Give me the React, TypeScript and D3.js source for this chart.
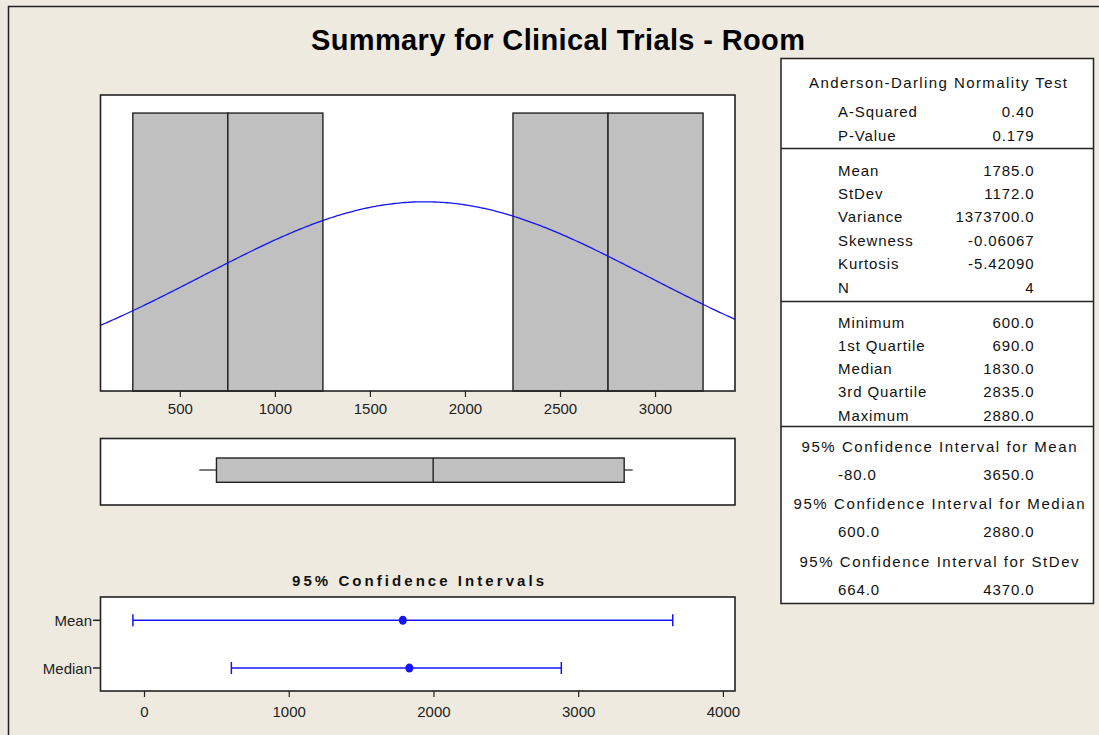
import React from "react";
import * as d3 from "d3";

// ---------- data ----------
const binEdges = [250, 750, 1250, 1750, 2250, 2750, 3250];
const binCounts = [1, 1, 0, 0, 1, 1];
const fitMean = 1785;
const fitStDev = 1172;
const fitN = 4;
const histTicks = [500, 1000, 1500, 2000, 2500, 3000];

const boxMin = 600;
const boxQ1 = 690;
const boxMedian = 1830;
const boxQ3 = 2835;
const boxMax = 2880;

const ciLabels = ["Mean", "Median"];
const ciCenters = [1785, 1830];
const ciLows = [-80, 600];
const ciHighs = [3650, 2880];
const ciTicks = [0, 1000, 2000, 3000, 4000];

const adLabels = ["A-Squared", "P-Value"];
const adValues = ["0.40", "0.179"];
const momentLabels = ["Mean", "StDev", "Variance", "Skewness", "Kurtosis", "N"];
const momentValues = ["1785.0", "1172.0", "1373700.0", "-0.06067", "-5.42090", "4"];
const quantLabels = ["Minimum", "1st Quartile", "Median", "3rd Quartile", "Maximum"];
const quantValues = ["600.0", "690.0", "1830.0", "2835.0", "2880.0"];
const ciTableHeaders = [
  "95% Confidence Interval for Mean",
  "95% Confidence Interval for Median",
  "95% Confidence Interval for StDev",
];
const ciTableLows = ["-80.0", "600.0", "664.0"];
const ciTableHighs = ["3650.0", "2880.0", "4370.0"];

const titleText = "Summary for Clinical Trials - Room";
const ciTitle = "95% Confidence Intervals";

// ---------- style ----------
const BG = "#EEEAE0";
const EDGE = "#222";
const BAR = "#C0C0C0";
const BLUE = "#1414F5";
const SANS = "'Liberation Sans', Arial, sans-serif";
const NARROW = "'Liberation Sans Narrow', 'Liberation Sans', Arial, sans-serif";

export default function App() {
  const W = 1099;
  const H = 735;

  // histogram
  const xH = d3.scaleLinear().domain([80, 3418]).range([100.5, 735]);
  const yH = d3.scaleLinear().domain([0, 1.065]).range([391, 95]);
  const bw = binEdges[1] - binEdges[0];
  const pdf = (v: number) =>
    (fitN * bw) / (fitStDev * Math.sqrt(2 * Math.PI)) *
    Math.exp(-0.5 * ((v - fitMean) / fitStDev) ** 2);
  const [d0, d1] = xH.domain();
  const curvePts: [number, number][] = d3
    .range(d0, d1 + 0.001, (d1 - d0) / 300)
    .map((v) => [v, pdf(v)]);
  const curve = d3
    .line<[number, number]>()
    .x((p) => xH(p[0]))
    .y((p) => yH(p[1]))(curvePts);

  // boxplot
  const boxTop = 438.5, boxBot = 505;
  const bxTop = 458, bxBot = 482.3, bxMid = 470;

  // CI plot
  const xC = d3.scaleLinear().domain([-304, 4080]).range([100.5, 735]);
  const ciTop = 597, ciBot = 691;
  const yC = d3.scalePoint<string>().domain(ciLabels).range([620.3, 668]);

  // table layout
  const tL = 781, tR = 1093.5, tTop = 58.5, tBot = 603.5;
  const tCx = 938;
  const labX = 838, valX = 1034.5;
  const tstyle = { fontFamily: SANS, fontSize: 15, letterSpacing: 0.9, fill: "#111" } as any;
  const base = 5.5;

  const rowLabel = (lab: string, val: string, y: number, k: string) => (
    <g key={k}>
      <text x={labX} y={y + base} {...tstyle}>{lab}</text>
      <text x={valX} y={y + base} textAnchor="end" {...tstyle}>{val}</text>
    </g>
  );

  return (
    <svg
      width={W}
      height={H}
      style={{ position: "fixed", left: 0, top: 0, background: BG }}
    >
      <rect x={0} y={0} width={W} height={H} fill={BG} />
      <rect x={8.5} y={6.5} width={W + 50} height={H + 50} fill="none" stroke={EDGE} strokeWidth={1.5} />

      {/* title */}
      <text
        x={558}
        y={50}
        textAnchor="middle"
        fontFamily={SANS}
        fontWeight="bold"
        fontSize={29}
        textLength={494}
        lengthAdjust="spacing"
        fill="#000"
      >
        {titleText}
      </text>

      {/* histogram */}
      <rect x={xH.range()[0]} y={95} width={xH.range()[1] - xH.range()[0]} height={391 - 95} fill="#fff" />
      {binCounts.map((c, i) =>
        c > 0 ? (
          <rect
            key={i}
            x={xH(binEdges[i])}
            y={yH(c)}
            width={xH(binEdges[i + 1]) - xH(binEdges[i])}
            height={yH(0) - yH(c)}
            fill={BAR}
            stroke={EDGE}
            strokeWidth={1.4}
          />
        ) : null
      )}
      <path d={curve || ""} fill="none" stroke={BLUE} strokeWidth={1.3} />
      <rect x={xH.range()[0]} y={95} width={xH.range()[1] - xH.range()[0]} height={391 - 95} fill="none" stroke={EDGE} strokeWidth={1.6} />
      {histTicks.map((t) => (
        <g key={t}>
          <line x1={xH(t)} x2={xH(t)} y1={391} y2={397} stroke={EDGE} strokeWidth={1.2} />
          <text x={xH(t)} y={414} textAnchor="middle" fontFamily={NARROW} fontSize={15} fill="#222">{t}</text>
        </g>
      ))}

      {/* boxplot */}
      <rect x={xH.range()[0]} y={boxTop} width={xH.range()[1] - xH.range()[0]} height={boxBot - boxTop} fill="#fff" stroke={EDGE} strokeWidth={1.6} />
      <line x1={xH(boxMin)} x2={xH(boxQ1)} y1={bxMid} y2={bxMid} stroke={EDGE} strokeWidth={1.2} />
      <line x1={xH(boxQ3)} x2={xH(boxMax)} y1={bxMid} y2={bxMid} stroke={EDGE} strokeWidth={1.2} />
      <rect x={xH(boxQ1)} y={bxTop} width={xH(boxQ3) - xH(boxQ1)} height={bxBot - bxTop} fill={BAR} stroke={EDGE} strokeWidth={1.4} />
      <line x1={xH(boxMedian)} x2={xH(boxMedian)} y1={bxTop} y2={bxBot} stroke={EDGE} strokeWidth={1.4} />

      {/* CI plot */}
      <text
        x={418}
        y={586}
        textAnchor="middle"
        fontFamily={SANS}
        fontWeight="bold"
        fontSize={15}
        textLength={252}
        lengthAdjust="spacing"
        fill="#111"
      >
        {ciTitle}
      </text>
      <rect x={xC.range()[0]} y={ciTop} width={xC.range()[1] - xC.range()[0]} height={ciBot - ciTop} fill="#fff" stroke={EDGE} strokeWidth={1.6} />
      {ciLabels.map((lab, i) => {
        const y = yC(lab) as number;
        return (
          <g key={lab}>
            <line x1={93} x2={100.5} y1={y} y2={y} stroke={EDGE} strokeWidth={1.5} />
            <text x={92} y={y + 5.5} textAnchor="end" fontFamily={NARROW} fontSize={15} fill="#222">{lab}</text>
            <line x1={xC(ciLows[i])} x2={xC(ciHighs[i])} y1={y} y2={y} stroke={BLUE} strokeWidth={1.5} />
            <line x1={xC(ciLows[i])} x2={xC(ciLows[i])} y1={y - 6} y2={y + 6} stroke={BLUE} strokeWidth={1.5} />
            <line x1={xC(ciHighs[i])} x2={xC(ciHighs[i])} y1={y - 6} y2={y + 6} stroke={BLUE} strokeWidth={1.5} />
            <ellipse cx={xC(ciCenters[i])} cy={y} rx={4} ry={4.5} fill={BLUE} />
          </g>
        );
      })}
      {ciTicks.map((t) => (
        <g key={t}>
          <line x1={xC(t)} x2={xC(t)} y1={ciBot} y2={ciBot + 6} stroke={EDGE} strokeWidth={1.2} />
          <text x={xC(t)} y={717} textAnchor="middle" fontFamily={NARROW} fontSize={15} fill="#222">{t}</text>
        </g>
      ))}

      {/* stats table */}
      <rect x={tL} y={tTop} width={tR - tL} height={tBot - tTop} fill="#fff" stroke={EDGE} strokeWidth={1.5} />
      {[148.6, 301.4, 426.4].map((y) => (
        <line key={y} x1={tL} x2={tR} y1={y} y2={y} stroke={EDGE} strokeWidth={1.5} />
      ))}
      <text x={tCx} y={82 + base} textAnchor="middle" {...tstyle} letterSpacing={0} textLength={258} lengthAdjust="spacing">
        Anderson-Darling Normality Test
      </text>
      {adLabels.map((l, i) => rowLabel(l, adValues[i], 111 + i * 24.3, "ad" + i))}
      {momentLabels.map((l, i) => rowLabel(l, momentValues[i], 170 + i * 23.4, "m" + i))}
      {quantLabels.map((l, i) => rowLabel(l, quantValues[i], 322 + i * 23.25, "q" + i))}
      {ciTableHeaders.map((h, i) => {
        const yh = 446 + i * 57.6;
        const widths = [275, 291, 279];
        return (
          <g key={h}>
            <text x={tCx + 1} y={yh + base} textAnchor="middle" {...tstyle} letterSpacing={0} textLength={widths[i]} lengthAdjust="spacing">
              {h}
            </text>
            <text x={labX} y={yh + 28 + base} {...tstyle}>{ciTableLows[i]}</text>
            <text x={valX} y={yh + 28 + base} textAnchor="end" {...tstyle}>{ciTableHighs[i]}</text>
          </g>
        );
      })}
    </svg>
  );
}
